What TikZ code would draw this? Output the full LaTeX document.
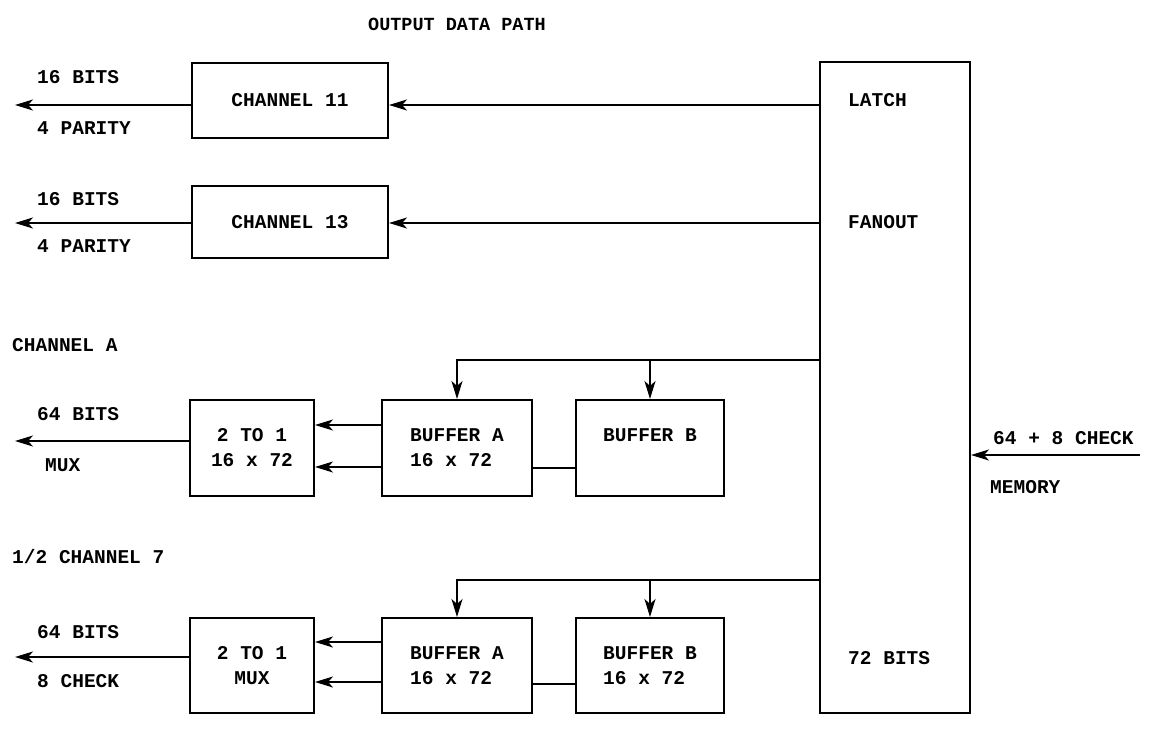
\documentclass[tikz,border=0pt]{standalone}
\usepackage{fontspec}
\setmainfont{Liberation Mono}
\usetikzlibrary{arrows.meta}
\tikzset{
  txt/.style={font=\bfseries\fontsize{19.5}{25}\selectfont},
  box/.style={draw,line width=2pt,inner sep=0pt,align=left,txt},
  lbl/.style={anchor=west,inner sep=0pt,txt},
  ln/.style={line width=2pt},
  arr/.style={line width=2pt,arrows={-Stealth[length=18pt,width=11pt,inset=5pt]}}
}
\begin{document}
\begin{tikzpicture}[x=1pt,y=-1pt]
\useasboundingbox (0,0) rectangle (1151,729);

% title
\node[inner sep=0pt,font=\bfseries\fontsize{18.5}{22}\selectfont] (title) at (457,24) {OUTPUT DATA PATH};

% big latch/fanout box
\node[box,minimum width=150pt,minimum height=651pt] (big) at (895,387.5) {};
\node[lbl] (latch) at (848,100) {LATCH};
\node[lbl] (fanout) at (848,222) {FANOUT};
\node[lbl] (b72) at (848,658) {72 BITS};

% channel boxes
\node[box,minimum width=196pt,minimum height=75pt] (ch11) at (290,100.5) {CHANNEL 11};
\node[box,minimum width=196pt,minimum height=72pt] (ch13) at (290,222) {CHANNEL 13};

% channel A row
\node[box,minimum width=124pt,minimum height=96pt,align=center] (muxA) at (252,448) {2 TO 1\\16 x 72};
\node[box,minimum width=150pt,minimum height=96pt] (bufA) at (457,448) {BUFFER A\\16 x 72\phantom{ }};
\node[box,minimum width=148pt,minimum height=96pt] (bufB) at (650,448) {BUFFER B\\\phantom{BUFFER B}};

% channel 7 row
\node[box,minimum width=124pt,minimum height=95pt,align=center] (muxB) at (252,665.5) {2 TO 1\\MUX};
\node[box,minimum width=150pt,minimum height=95pt] (bufC) at (457,665.5) {BUFFER A\\16 x 72\phantom{ }};
\node[box,minimum width=148pt,minimum height=95pt] (bufD) at (650,665.5) {BUFFER B\\16 x 72\phantom{ }};

% free ends
\coordinate (o11) at (15,105);
\coordinate (o13) at (15,223);
\coordinate (oA) at (15,441);
\coordinate (oB) at (15,657);
\coordinate (mem) at (1140,455);

% channel 11 / 13
\draw[arr] (big.west |- o11) -- (ch11.east |- o11);
\draw[arr] (ch11.west |- o11) -- (o11);
\draw[arr] (big.west |- o13) -- (ch13.east |- o13);
\draw[arr] (ch13.west |- o13) -- (o13);

% channel A feed
\draw[arr] (big.west |- 0,360) -| (bufA.north);
\draw[arr] (bufB.north |- 0,360) -- (bufB.north);
\draw[arr] (bufA.west |- 0,425) -- (muxA.east |- 0,425);
\draw[arr] (bufA.west |- 0,467) -- (muxA.east |- 0,467);
\draw[ln] (bufA.east |- 0,468) -- (bufB.west |- 0,468);
\draw[arr] (muxA.west |- oA) -- (oA);

% channel 7 feed
\draw[arr] (big.west |- 0,580) -| (bufC.north);
\draw[arr] (bufD.north |- 0,580) -- (bufD.north);
\draw[arr] (bufC.west |- 0,642) -- (muxB.east |- 0,642);
\draw[arr] (bufC.west |- 0,682) -- (muxB.east |- 0,682);
\draw[ln] (bufC.east |- 0,684) -- (bufD.west |- 0,684);
\draw[arr] (muxB.west |- oB) -- (oB);

% memory input
\draw[arr] (mem) -- (big.east |- mem);

% labels
\node[lbl] (l1) at (37,77) {16 BITS};
\node[lbl] (l2) at (37,128) {4 PARITY};
\node[lbl] (l3) at (37,199) {16 BITS};
\node[lbl] (l4) at (37,246) {4 PARITY};
\node[lbl] (l5) at (12,345) {CHANNEL A};
\node[lbl] (l6) at (37,414) {64 BITS};
\node[lbl] (l7) at (45,465) {MUX};
\node[lbl] (l8) at (12,557) {1/2 CHANNEL 7};
\node[lbl] (l9) at (37,632) {64 BITS};
\node[lbl] (l10) at (37,681) {8 CHECK};
\node[lbl] (l11) at (993,438) {64 + 8 CHECK};
\node[lbl] (l12) at (990,487) {MEMORY};
\end{tikzpicture}
\end{document}
